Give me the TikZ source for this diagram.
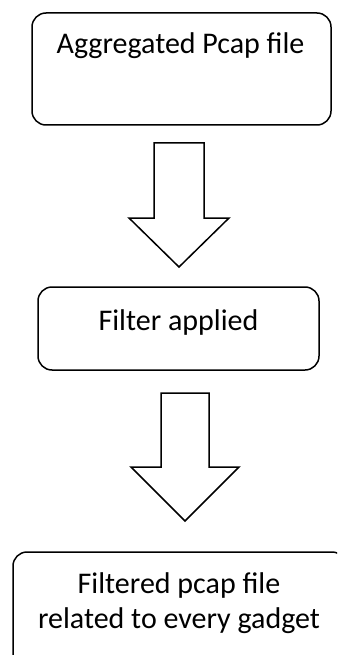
\documentclass[tikz,border=0pt]{standalone}
\usepackage{fontspec}
\setmainfont{Carlito}
\begin{document}
\begin{tikzpicture}[x=1pt,y=-1pt,
  stage/.style={draw=black, line width=1.5pt, rounded corners=14pt, fill=none},
  label/.style={anchor=base, inner sep=0pt, font=\fontsize{30}{36}\selectfont},
  blockarrow/.style={draw=black, line width=1.5pt, fill=white, line join=miter}]
\useasboundingbox (0,0) rectangle (337,655);
\clip (0,0) rectangle (337,655);

% stage boxes
\draw[stage] (32,13) rectangle (331,125);
\draw[stage] (38,287) rectangle (319,370);
\draw[stage] (13,552) rectangle (346,668);

% stage texts
\node[label] (agg) at (180.5,54) {Aggregated Pcap file};
\node[label] (filt) at (178.5,330) {Filter applied};
\node[label] (out1) at (179,593) {Filtered pcap file};
\node[label] (out2) at (179,628) {related to every gadget};

% hollow block arrows between stages
\draw[blockarrow] (154,143) -- (204,143) -- (204,218) -- (229,218) -- (179,267)
  -- (129,218) -- (154,218) -- cycle;
\draw[blockarrow] (161,393) -- (209,393) -- (209,467) -- (239,467) -- (185,521)
  -- (131,467) -- (161,467) -- cycle;
\end{tikzpicture}
\end{document}
